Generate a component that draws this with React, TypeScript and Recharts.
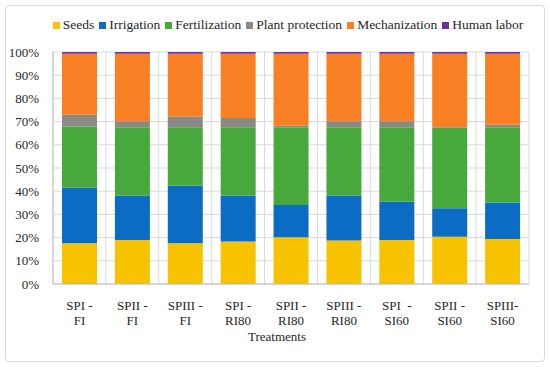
import { Bar, BarChart, CartesianGrid, Label, XAxis, YAxis } from "recharts";

const treatments = ["SPI - FI", "SPII - FI", "SPIII - FI", "SPI - RI80", "SPII - RI80", "SPIII - RI80", "SPI  - SI60", "SPII - SI60", "SPIII- SI60"];
const tickLines = [
  ["SPI -", "FI"],
  ["SPII -", "FI"],
  ["SPIII -", "FI"],
  ["SPI -", "RI80"],
  ["SPII -", "RI80"],
  ["SPIII -", "RI80"],
  ["SPI  -", "SI60"],
  ["SPII -", "SI60"],
  ["SPIII-", "SI60"],
];

const seeds = [17.6, 19.0, 17.6, 18.3, 20.1, 18.7, 19.0, 20.4, 19.4];
const irrigation = [24.0, 19.1, 24.7, 19.8, 14.0, 19.4, 16.5, 12.3, 15.7];
const fertilization = [26.3, 29.5, 25.3, 29.5, 33.5, 29.5, 32.1, 34.5, 32.5];
const plantProtection = [5.1, 2.5, 4.6, 3.9, 0.6, 2.5, 2.5, 0.4, 1.0];
const mechanization = [26.2, 29.1, 27.0, 27.7, 31.0, 29.1, 29.1, 31.6, 30.6];
const humanLabor = [0.8, 0.8, 0.8, 0.8, 0.8, 0.8, 0.8, 0.8, 0.8];

const yTicks = [0, 0.1, 0.2, 0.3, 0.4, 0.5, 0.6, 0.7, 0.8, 0.9, 1];

const series = [
  { key: "seeds", name: "Seeds", color: "#f7c200" },
  { key: "irrigation", name: "Irrigation", color: "#0b6cc4" },
  { key: "fertilization", name: "Fertilization", color: "#47a83b" },
  { key: "plantProtection", name: "Plant protection", color: "#8a8a84" },
  { key: "mechanization", name: "Mechanization", color: "#f97f24" },
  { key: "humanLabor", name: "Human labor", color: "#7030a0" },
];

const data = treatments.map((t, i) => ({
  name: t,
  seeds: seeds[i],
  irrigation: irrigation[i],
  fertilization: fertilization[i],
  plantProtection: plantProtection[i],
  mechanization: mechanization[i],
  humanLabor: humanLabor[i],
}));

const FONT = "'Liberation Serif', serif";

function TwoLineTick(props: any) {
  const { x, y, index } = props;
  const lines = tickLines[index] || ["", ""];
  return (
    <g transform={`translate(${x},${y})`}>
      <text textAnchor="middle" fill="#262626" fontSize={13} fontFamily={FONT} style={{ whiteSpace: "pre" }}>
        <tspan x={0} dy={18}>{lines[0]}</tspan>
        <tspan x={0} dy={15}>{lines[1]}</tspan>
      </text>
    </g>
  );
}

export default function App() {
  return (
    <div style={{ position: "absolute", left: 0, top: 0, width: 550, height: 367, background: "#fff", fontFamily: FONT }}>
      <div
        style={{
          position: "absolute",
          left: 5,
          top: 5,
          width: 538,
          height: 355,
          border: "1px solid #d9d9d9",
          borderRadius: 4,
        }}
      />
      <div
        style={{
          position: "absolute",
          left: 0,
          top: 16,
          width: 550,
          paddingLeft: 26,
          boxSizing: "border-box",
          display: "flex",
          justifyContent: "center",
          gap: 5,
          fontSize: 13.5,
          color: "#262626",
          lineHeight: "18px",
        }}
      >
        {series.map((s) => (
          <span key={s.key} style={{ display: "flex", alignItems: "center" }}>
            <span style={{ width: 7, height: 7, background: s.color, marginRight: 3, display: "inline-block" }} />
            {s.name}
          </span>
        ))}
      </div>
      <BarChart
        width={550}
        height={367}
        data={data}
        stackOffset="expand"
        margin={{ top: 52, right: 21, bottom: 0, left: 0 }}
        barSize={35}
        style={{ position: "absolute", left: 0, top: 0 }}
      >
        <CartesianGrid
          stroke="#d9d9d9"
          verticalCoordinatesGenerator={({ offset }: any) =>
            treatments.map((_, i) => offset.left + (i * offset.width) / treatments.length).concat(offset.left + offset.width)
          }
        />
        <XAxis
          dataKey="name"
          tickLine={false}
          axisLine={{ stroke: "#bfbfbf" }}
          tick={<TwoLineTick />}
          interval={0}
          height={83}
        >
          <Label value="Treatments" position="insideBottom" offset={26} dx={-14} fill="#262626" fontSize={13} fontFamily={FONT} />
        </XAxis>
        <YAxis
          width={53}
          ticks={yTicks}
          interval={0}
          domain={[0, 1]}
          tickLine={false}
          axisLine={{ stroke: "#bfbfbf" }}
          tickFormatter={(v: number) => `${Math.round(v * 100)}%`}
          tick={{ fill: "#262626", fontSize: 13, fontFamily: FONT }}
          tickMargin={8}
        />
        {series.map((s) => (
          <Bar key={s.key} dataKey={s.key} name={s.name} stackId="a" fill={s.color} isAnimationActive={false} />
        ))}
      </BarChart>
    </div>
  );
}
